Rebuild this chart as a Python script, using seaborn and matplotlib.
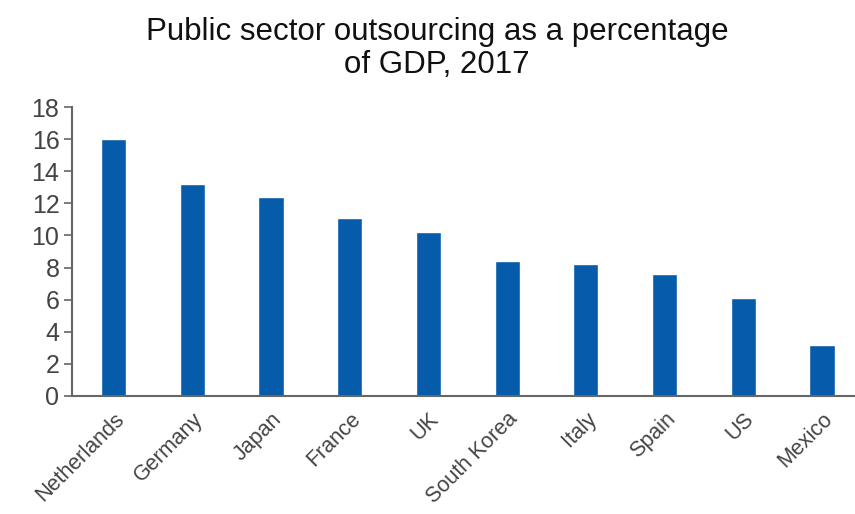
import matplotlib
matplotlib.use("Agg")
import matplotlib.pyplot as plt
import seaborn as sns
import pandas as pd

countries = ["Netherlands", "Germany", "Japan", "France", "UK",
             "South Korea", "Italy", "Spain", "US", "Mexico"]
values = [16.0, 13.2, 12.4, 11.1, 10.2, 8.4, 8.2, 7.6, 6.1, 3.2]
yticks = [0, 2, 4, 6, 8, 10, 12, 14, 16, 18]
title = "Public sector outsourcing as a percentage\nof GDP, 2017"

sns.set_theme(style="white")
plt.rcParams["font.family"] = ["Liberation Sans", "DejaVu Sans"]

df = pd.DataFrame({"country": countries, "value": values})

fig = plt.figure(figsize=(8.55, 5.14), dpi=100)
ax = fig.add_axes([0.0842, 0.2296, 0.9158, 0.5622])
sns.barplot(data=df, x="country", y="value", color="#065BAA",
            width=0.32, saturation=1, ax=ax)
ax.set_xlim(-0.53, 9.42)
ax.set_ylim(0, 18)
ax.set_yticks(yticks)
ax.set_yticklabels([str(t) for t in yticks], fontsize=18, color="#444444")
ax.set_xlabel("")
ax.set_ylabel("")
for s in ["top", "right"]:
    ax.spines[s].set_visible(False)
for s in ["left", "bottom"]:
    ax.spines[s].set_color("#666666")
    ax.spines[s].set_linewidth(1.5)
ax.tick_params(axis="y", which="both", left=True, length=6, width=1.2,
               color="#666666", pad=3)
ax.tick_params(axis="x", bottom=False, pad=3)
ax.set_xticks(range(len(countries)))
ax.set_xticklabels(countries, rotation=45, ha="right", rotation_mode="anchor",
                   fontsize=15.5, color="#444444")
fig.text(0.511, 0.906, title, ha="center", va="center", fontsize=22.5,
         color="#111111", linespacing=1.15)
fig.savefig("out.png", dpi=100)
